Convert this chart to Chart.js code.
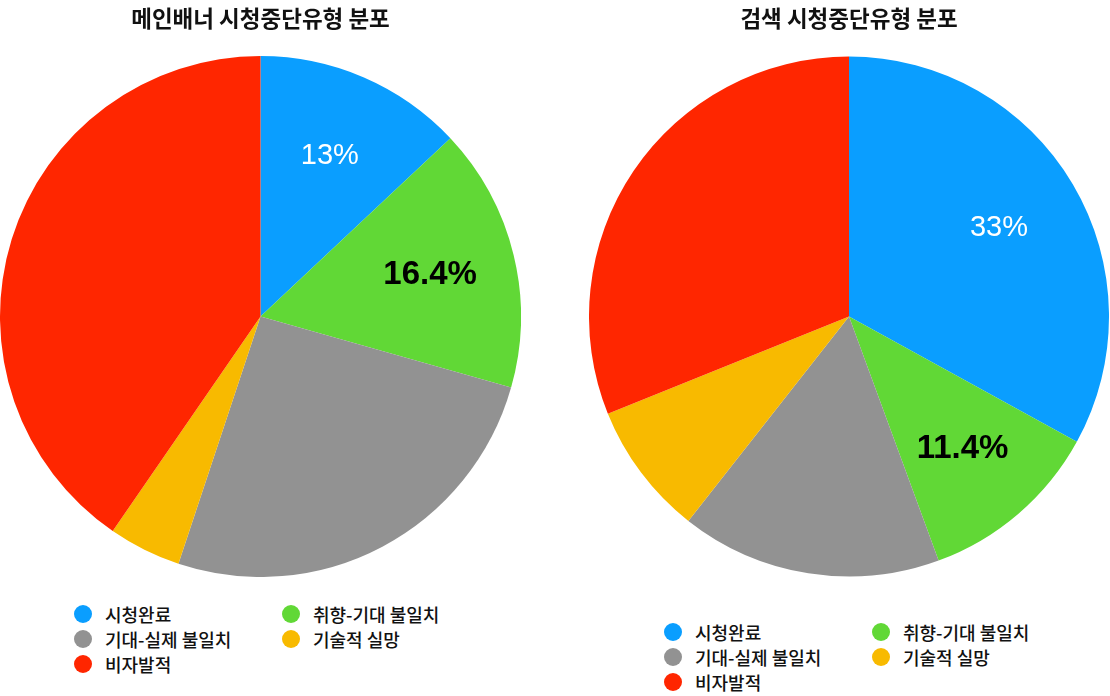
<!DOCTYPE html>
<html>
<head>
<meta charset="utf-8">
<script src="https://cdn.jsdelivr.net/npm/chart.js@4"></script>
<style>
  body { margin: 0; background: #fff; width: 1110px; height: 696px; overflow: hidden; position: relative; }
  .box { position: absolute; top: 0; }
  .legend-item { position: absolute; display: flex; align-items: center; font-family: "Noto Sans CJK KR", sans-serif; font-size: 18px; font-weight: 500; color: #111; white-space: nowrap; }
  .legend-dot { width: 18px; height: 18px; border-radius: 50%; margin-right: 13px; }
</style>
</head>
<body>
<div class="box" style="left:0;width:521px;height:577px"><canvas id="mainChart"></canvas></div>
<div class="box" style="left:589px;width:520px;height:577px"><canvas id="searchChart"></canvas></div>
<div id="mainLegend"></div>
<div id="searchLegend"></div>
<script>
// data, clockwise from 12 o'clock
const categories = ['시청완료', '취향-기대 불일치', '기대-실제 불일치', '기술적 실망', '비자발적'];
const mainBannerValues = [13, 16.4, 25.7, 4.5, 40.4];
const searchValues = [33, 11.4, 16.2, 8.3, 31.1];
const colors = ['#0A9EFF', '#61D836', '#929292', '#F8BA00', '#FF2600'];

// legend layout: 2 columns, filled row by row
const legendRows = [[0, 1], [2, 3], [4]];

// percent labels drawn inside the first two slices
const sliceLabels = {
    id: 'sliceLabels',
    afterDatasetsDraw(chart) {
        const ctx = chart.ctx;
        const meta = chart.getDatasetMeta(0);
        const values = chart.data.datasets[0].data;
        const styles = [
            { font: '29px "Liberation Sans", Arial, sans-serif', color: '#ffffff' },
            { font: 'bold 33px "Liberation Sans", Arial, sans-serif', color: '#000000' }
        ];
        styles.forEach((st, i) => {
            const arc = meta.data[i];
            const p = arc.getProps(['x', 'y', 'startAngle', 'endAngle', 'outerRadius'], true);
            const mid = (p.startAngle + p.endAngle) / 2;
            const r = p.outerRadius * 0.67;
            ctx.save();
            ctx.font = st.font;
            ctx.fillStyle = st.color;
            ctx.textAlign = 'center';
            ctx.textBaseline = 'middle';
            ctx.fillText(values[i] + '%', p.x + Math.cos(mid) * r, p.y + Math.sin(mid) * r);
            ctx.restore();
        });
    }
};

function makePie(id, title, values) {
    return new Chart(document.getElementById(id), {
        type: 'pie',
        data: {
            labels: categories,
            datasets: [{
                data: values,
                backgroundColor: colors,
                borderWidth: 0,
                hoverOffset: 0
            }]
        },
        options: {
            responsive: true,
            maintainAspectRatio: false,
            animation: false,
            layout: { padding: 0 },
            plugins: {
                legend: { display: false },
                tooltip: { enabled: false },
                title: {
                    display: true,
                    text: title,
                    color: '#111',
                    font: { family: '"Noto Sans CJK KR", sans-serif', size: 22.5, weight: 'bold', lineHeight: 1.2 },
                    padding: { top: 5, bottom: 24 }
                }
            }
        },
        plugins: [sliceLabels]
    });
}

function makeLegend(id, left, top) {
    const holder = document.getElementById(id);
    legendRows.forEach((row, r) => {
        row.forEach((idx, c) => {
            const item = document.createElement('div');
            item.className = 'legend-item';
            item.style.left = (left + c * 208) + 'px';
            item.style.top = (top + r * 25) + 'px';
            const dot = document.createElement('span');
            dot.className = 'legend-dot';
            dot.style.background = colors[idx];
            const txt = document.createElement('span');
            txt.textContent = categories[idx];
            item.appendChild(dot);
            item.appendChild(txt);
            holder.appendChild(item);
        });
    });
}

makePie('mainChart', '메인배너 시청중단유형 분포', mainBannerValues);
makePie('searchChart', '검색 시청중단유형 분포', searchValues);
makeLegend('mainLegend', 74, 601);
makeLegend('searchLegend', 664, 619);
</script>
</body>
</html>
